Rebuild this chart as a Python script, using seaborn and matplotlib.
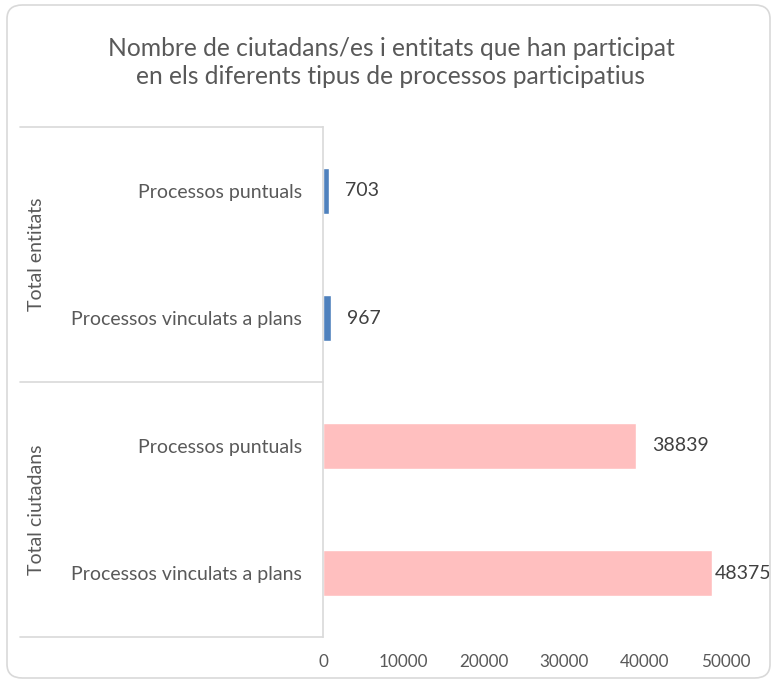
import matplotlib
matplotlib.use("Agg")
import matplotlib.pyplot as plt
from matplotlib.patches import FancyBboxPatch
import seaborn as sns
import pandas as pd

# Chart data
groups = ["Total entitats", "Total entitats", "Total ciutadans", "Total ciutadans"]
processes = ["Processos puntuals", "Processos vinculats a plans",
             "Processos puntuals", "Processos vinculats a plans"]
values = [703, 967, 38839, 48375]
x_ticks = [0, 10000, 20000, 30000, 40000, 50000]
title = ("Nombre de ciutadans/es i entitats que han participat\n"
         "en els diferents tipus de processos participatius")

df = pd.DataFrame({
    "row": [f"{g}|{p}" for g, p in zip(groups, processes)],
    "group": groups,
    "process": processes,
    "value": values,
})

sns.set_theme(style="white")
plt.rcParams["font.family"] = ["Lato", "DejaVu Sans"]

W, H = 772, 685
fig = plt.figure(figsize=(W / 100, H / 100), dpi=100)
ax = fig.add_axes([323 / W, 1 - 637 / H, 402.5 / W, 510 / H])

palette = {"Total entitats": "#4F81BD", "Total ciutadans": "#FFBFBF"}
sns.barplot(data=df, x="value", y="row", hue="group", palette=palette,
            orient="h", dodge=False, width=0.36, legend=False, ax=ax,
            saturation=1)

ax.set_xlim(0, 50000)
ax.set_ylim(3.5, -0.5)
ax.set_xlabel("")
ax.set_ylabel("")
ax.set_xticks(x_ticks)
ax.set_xticklabels([str(t) for t in x_ticks], color="#595959", fontsize=12.3)
ax.set_yticks(range(len(df)))
ax.set_yticklabels(df["process"], color="#595959", fontsize=14)
ax.tick_params(axis="x", length=0, pad=12)
ax.tick_params(axis="y", length=0, pad=15)
for side in ["top", "right", "bottom"]:
    ax.spines[side].set_visible(False)
ax.spines["left"].set_color("#D9D9D9")
ax.spines["left"].set_linewidth(1.2)

# Group dividers on the category axis
left_frac = (20 - 323) / 402.5
trans = ax.get_yaxis_transform()
for yb in [-0.5, 1.5, 3.5]:
    ax.plot([left_frac, 0], [yb, yb], color="#D9D9D9", lw=1.2,
            transform=trans, clip_on=False)

# Group labels (rotated)
for i, g in enumerate(dict.fromkeys(groups)):
    rows = [k for k, gg in enumerate(groups) if gg == g]
    ymid = sum(rows) / len(rows)
    ax.text((37 - 323) / 402.5, ymid, g, rotation=90, ha="center",
            va="center", color="#595959", fontsize=14, transform=trans)

# Value labels
px_per_unit = 402.5 / 50000
limit = 715 - 323
for k, v in enumerate(values):
    xpx = v * px_per_unit + 16
    if xpx + 55 > 772 - 323:
        xpx = limit
    ax.text(xpx / px_per_unit, k, str(v), ha="left", va="center",
            color="#404040", fontsize=14, clip_on=False)

# Title
fig.text(391 / W, 1 - 62.5 / H, title, ha="center", va="center",
         color="#595959", fontsize=17.7, linespacing=1.3)

# Chart frame
frame = FancyBboxPatch((7 / W, 7 / H), 763 / W, 673 / H,
                       boxstyle="round,pad=0,rounding_size=0.02",
                       transform=fig.transFigure, facecolor="none",
                       edgecolor="#D9D9D9", lw=1.2)
fig.patches.append(frame)

fig.savefig("out.png", dpi=100)
